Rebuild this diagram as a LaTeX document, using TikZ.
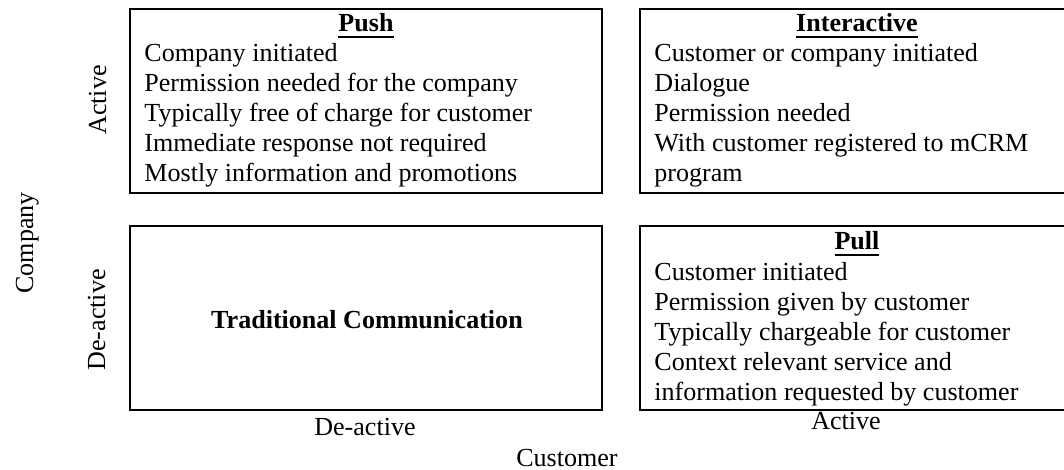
\documentclass[tikz,border=0pt]{standalone}
\usepackage{fontspec}
\setmainfont{Liberation Serif}
% heading with a Word-like underline
\newcommand\ulbar[1]{\setbox0\hbox{#1}\rlap{\rule[-2.8pt]{\wd0}{0.9pt}}\box0}

\begin{document}
\begin{tikzpicture}[x=0.4605pt, y=-0.4605pt,
  every node/.style={font=\fontsize{12}{14}\selectfont, inner sep=0pt},
  quad/.style={draw, line width=0.9pt},
  item/.style={anchor=base west},
  head/.style={anchor=base, font=\fontsize{12}{14}\selectfont\bfseries},
  axis/.style={anchor=base}]
\useasboundingbox (0,0) rectangle (1064,470);
\clip (0,0) rectangle (1064,470);
% the four quadrants
\draw[quad] (130,9) rectangle (602,193);
\draw[quad] (640,9) rectangle (1074,193);
\draw[quad] (130,226) rectangle (602,410);
\draw[quad] (640,226) rectangle (1074,410);
% push
\node[head] (pushT) at (366,32) {\ulbar{Push}};
\foreach \t [count=\i] in {Company initiated, Permission needed for the company,
  Typically free of charge for customer, Immediate response not required,
  Mostly information and promotions}
  \node[item] (push\i) at (144,32+30*\i) {\t};
% interactive
\node[head] (interT) at (857,32) {\ulbar{Interactive}};
\foreach \t [count=\i] in {Customer or company initiated, Dialogue, Permission needed,
  With customer registered to mCRM, program}
  \node[item] (inter\i) at (654,32+30*\i) {\t};
% traditional
\node[head] (trad) at (367,329) {Traditional Communication};
% pull
\node[head] (pullT) at (857,250) {\ulbar{Pull}};
\foreach \t [count=\i] in {Customer initiated, Permission given by customer,
  Typically chargeable for customer, Context relevant service and,
  information requested by customer}
  \node[item] (pull\i) at (654,250+30.2*\i) {\t};
% axes
\node[axis, rotate=90] (compAct) at (106,100) {Active};
\node[axis, rotate=90] (compDe) at (105,320) {De-active};
\node[axis, rotate=90] (company) at (33,243) {Company};
\node[axis] (custDe) at (365,436) {De-active};
\node[axis] (custAct) at (846,430) {Active};
\node[axis] (customer) at (567,467) {Customer};
\end{tikzpicture}
\end{document}
